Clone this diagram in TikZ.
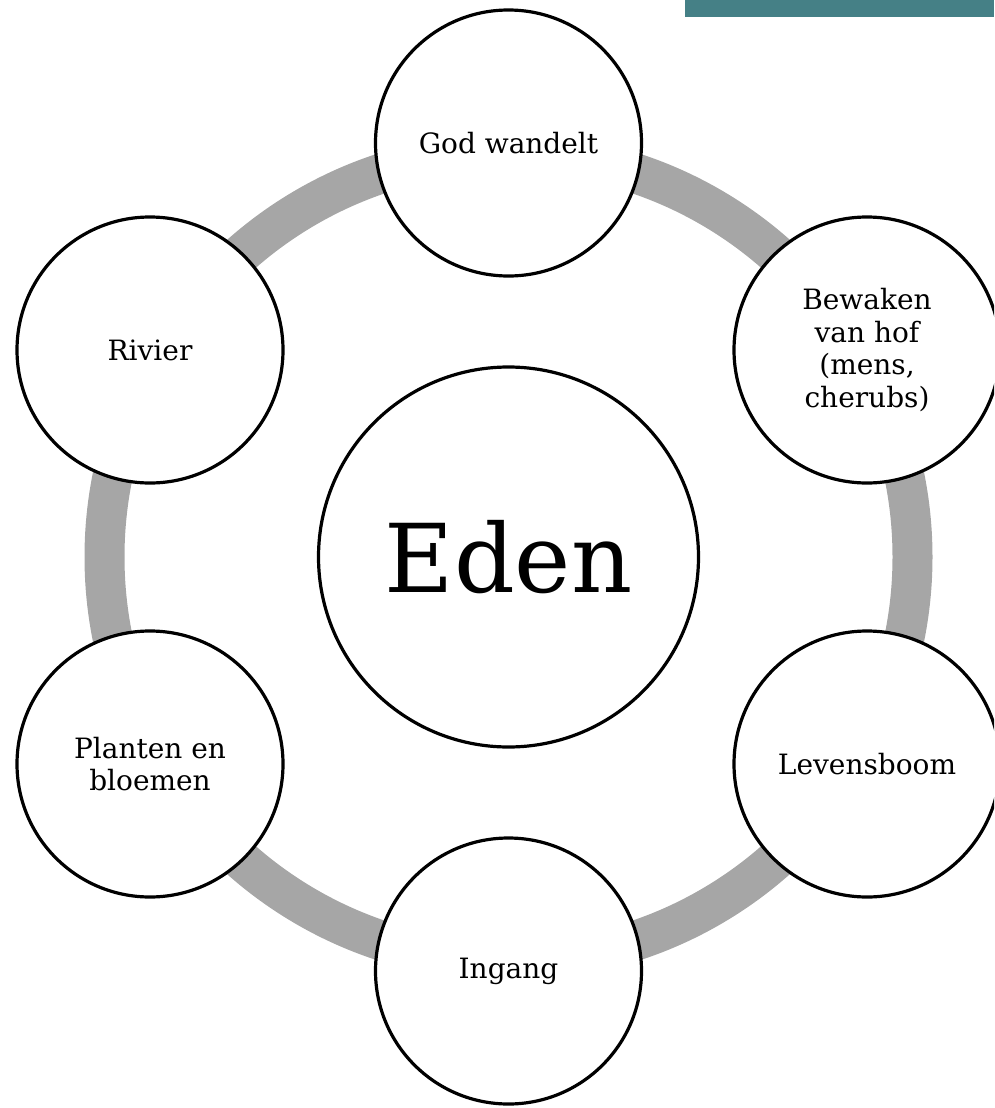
\documentclass[tikz,border=0pt]{standalone}
\usepackage{fontspec}
\setmainfont{DejaVu Serif}
\definecolor{ringgray}{RGB}{166,166,166}
\definecolor{tealbar}{RGB}{69,128,134}
\tikzset{
  outer/.style={circle, draw=black, line width=3.2pt, fill=white, minimum size=266pt, inner sep=0pt, align=center, font=\fontsize{28}{32.5}\selectfont},
  hub/.style={circle, draw=black, line width=3.2pt, fill=white, minimum size=380pt, inner sep=0pt, font=\fontsize{95}{110}\selectfont},
}
\begin{document}
\begin{tikzpicture}[x=1pt,y=-1pt]
\useasboundingbox (0,0) rectangle (994,1108);
\clip (0,0) rectangle (994,1108);
\fill[tealbar] (685,0) rectangle (994,17);
\coordinate (c) at (508.5,557);
\draw[ringgray, line width=40pt] (c) circle[radius=404pt];
\node[hub] (eden) at (c) {Eden};
\node[outer] (god) at (508.5,143) {God wandelt};
\node[outer] (bew) at (867,350) {Bewaken\\van hof\\(mens,\\cherubs)};
\node[outer] (lev) at (867,764) {Levensboom};
\node[outer] (ing) at (508.5,971) {Ingang};
\node[outer] (pla) at (150,764) {Planten en\\bloemen};
\node[outer] (riv) at (150,350) {Rivier};
\end{tikzpicture}
\end{document}
